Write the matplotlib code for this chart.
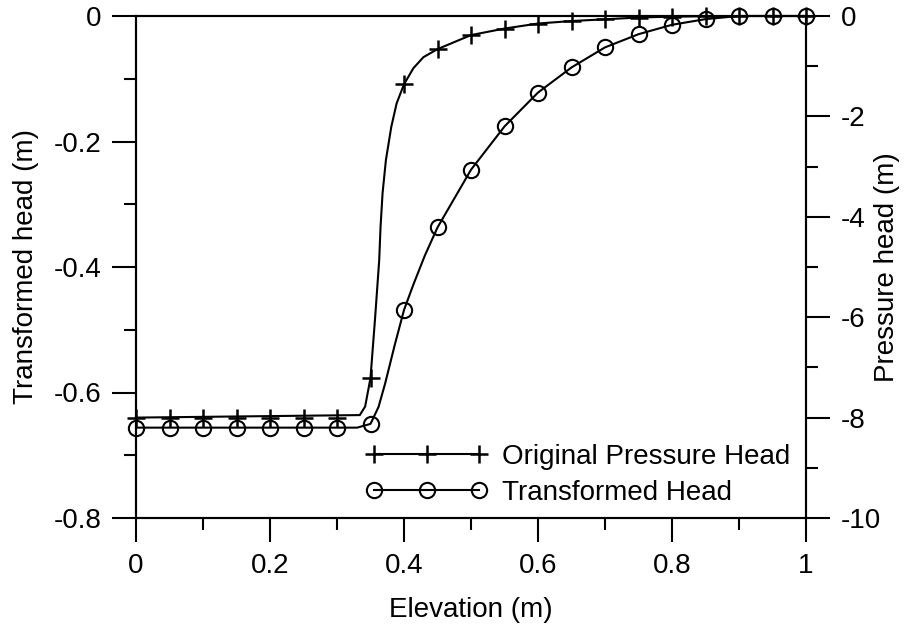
import matplotlib
matplotlib.use("Agg")
import matplotlib.pyplot as plt
from matplotlib.lines import Line2D
from matplotlib.ticker import MultipleLocator

plt.rcParams['font.family'] = ['Liberation Sans', 'DejaVu Sans']
plt.rcParams['axes.unicode_minus'] = False

# nodes where the solution is marked
elev = [0.0, 0.05, 0.10, 0.15, 0.20, 0.25, 0.30, 0.35, 0.40, 0.45, 0.50,
        0.55, 0.60, 0.65, 0.70, 0.75, 0.80, 0.85, 0.90, 0.95, 1.0]
pressure_head = [-8.0, -8.0, -8.0, -8.0, -8.0, -8.0, -8.0, -7.21, -1.36, -0.66, -0.38,
                 -0.25, -0.15, -0.10, -0.066, -0.03, -0.013, -0.005, 0.0, 0.0, 0.0]
transformed_head = [-0.656, -0.656, -0.656, -0.656, -0.656, -0.656, -0.656, -0.650, -0.4685, -0.337, -0.245,
                    -0.176, -0.122, -0.082, -0.050, -0.029, -0.014, -0.005, 0.0, 0.0, 0.0]

# finer profiles for the curves (front region resolved more densely)
press_line_elev = [0.0, 0.334, 0.342, 0.35, 0.357, 0.363, 0.365, 0.368, 0.373, 0.381, 0.389,
                   0.40, 0.414, 0.429, 0.45, 0.50, 0.55, 0.60, 0.65, 0.70, 0.75, 0.80,
                   0.85, 0.90, 1.0]
press_line = [-8.0, -7.95, -7.78, -7.21, -5.99, -4.86, -4.20, -3.53, -2.87, -2.21, -1.74,
              -1.36, -1.04, -0.82, -0.66, -0.38, -0.25, -0.15, -0.10, -0.066, -0.03, -0.013,
              -0.005, 0.0, 0.0]
trans_line_elev = [0.0, 0.33, 0.35, 0.362, 0.372, 0.386, 0.40, 0.414, 0.431, 0.45, 0.50,
                   0.55, 0.60, 0.65, 0.70, 0.75, 0.80, 0.85, 0.90, 1.0]
trans_line = [-0.656, -0.656, -0.650, -0.623, -0.585, -0.525, -0.4685, -0.428, -0.382, -0.337, -0.245,
              -0.176, -0.122, -0.082, -0.050, -0.029, -0.014, -0.005, 0.0, 0.0]

x_ticks = [0, 0.2, 0.4, 0.6, 0.8, 1.0]
x_tick_labels = ['0', '0.2', '0.4', '0.6', '0.8', '1']
left_ticks = [-0.8, -0.6, -0.4, -0.2, 0.0]
left_tick_labels = ['-0.8', '-0.6', '-0.4', '-0.2', '0']
right_ticks = [-10, -8, -6, -4, -2, 0]
right_tick_labels = ['-10', '-8', '-6', '-4', '-2', '0']

lw = 1.5
fig = plt.figure(figsize=(9.05, 6.3), dpi=100)
ax = fig.add_axes([136 / 905, 1 - 518 / 630, 670 / 905, 502 / 630])
ax2 = ax.twinx()

# transformed head on the left axis
ax.plot(trans_line_elev, trans_line, color='k', lw=lw, clip_on=False)
ax.plot(elev, transformed_head, ls='none', marker='o', ms=11, mfc='none',
        mec='k', mew=lw, clip_on=False)
# pressure head on the right axis
ax2.plot(press_line_elev, press_line, color='k', lw=lw, clip_on=False)
ax2.plot(elev, pressure_head, ls='none', marker='+', ms=12.5, mec='k',
         mew=lw + 0.3, clip_on=False)

ax.set_xlim(0, 1)
ax.set_ylim(-0.8, 0)
ax2.set_ylim(-10, 0)

ax.set_xticks(x_ticks, x_tick_labels)
ax.set_yticks(left_ticks, left_tick_labels)
ax2.set_yticks(right_ticks, right_tick_labels)
ax.xaxis.set_minor_locator(MultipleLocator(0.1))
ax.yaxis.set_minor_locator(MultipleLocator(0.1))
ax2.yaxis.set_minor_locator(MultipleLocator(1))

for a in (ax, ax2):
    a.tick_params(which='major', direction='out', length=17, width=lw,
                  labelsize=20, pad=8)
    a.tick_params(which='minor', direction='out', length=8.5, width=lw)
    for s in a.spines.values():
        s.set_linewidth(lw)

ax.set_xlabel('Elevation (m)', fontsize=20)
ax.set_ylabel('Transformed head (m)', fontsize=20)
ax2.set_ylabel('Pressure head (m)', fontsize=20)
ax.xaxis.set_label_coords(0.5, (518 - 610) / 502)
ax.yaxis.set_label_coords((26 - 136) / 670, 0.5)
ax2.yaxis.set_label_coords((887 - 136) / 670, 0.5)
ax.xaxis.label.set_va('center')
ax.yaxis.label.set_va('center')
ax2.yaxis.label.set_va('center')

handles = [
    Line2D([], [], color='k', lw=lw, marker='+', ms=12.5, mew=lw + 0.3),
    Line2D([], [], color='k', lw=lw, marker='o', ms=11, mfc='none', mew=lw),
]
ax2.legend(handles, ['Original Pressure Head', 'Transformed Head'],
           loc='lower left', bbox_to_anchor=((366 - 136) / 670, (518 - 506) / 502),
           frameon=False, fontsize=20, numpoints=3, handlelength=4.38,
           handletextpad=0.5, labelspacing=0.37, borderpad=0, borderaxespad=0)

fig.savefig('out.png', dpi=100)
